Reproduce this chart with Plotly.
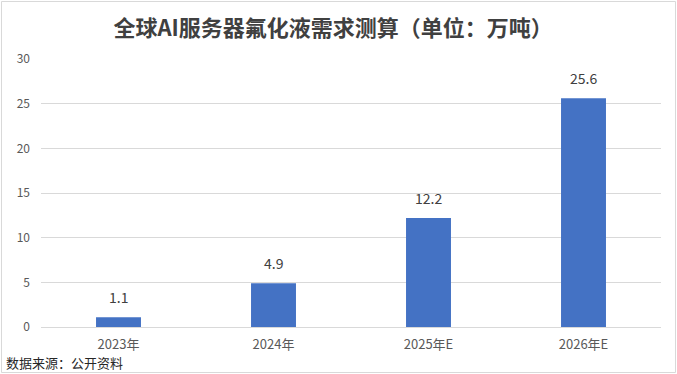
import plotly.graph_objects as go

categories = ["2023年", "2024年", "2025年E", "2026年E"]
values = [1.1, 4.9, 12.2, 25.6]
value_labels = ["1.1", "4.9", "12.2", "25.6"]
y_ticks = [0, 5, 10, 15, 20, 25, 30]

W, H = 677, 374
L, R, T, B = 41, 16, 59, 47
pw, ph = W - L - R, H - T - B

def px_x(p):
    return (p - L) / pw

def px_y(p):
    return (H - B - p) / ph

font = "Noto Sans CJK SC, Microsoft YaHei, sans-serif"

fig = go.Figure()
fig.add_trace(go.Bar(
    x=categories, y=values, width=0.29,
    marker=dict(color="#4472C4", line=dict(width=0)),
    hoverinfo="x+y",
))

for c, v, t in zip(categories, values, value_labels):
    fig.add_annotation(x=c, y=v, text=t, showarrow=False, yanchor="middle",
                       yshift=20, font=dict(family=font, size=14, color="#404040"))

fig.update_layout(
    width=W, height=H,
    margin=dict(l=L, r=R, t=T, b=B),
    paper_bgcolor="white", plot_bgcolor="white",
    showlegend=False,
    font=dict(family=font),
    title=dict(text="<b>全球AI服务器氟化液需求测算（单位：万吨）</b>",
               x=0.492, xref="container", xanchor="center",
               y=1 - 28 / H, yref="container", yanchor="middle",
               font=dict(family=font, size=22, color="#404040")),
    xaxis=dict(showgrid=False, showline=True, linecolor="#d9d9d9", linewidth=1,
               ticks="", tickfont=dict(family=font, size=13, color="#595959"),
               ticklabelstandoff=5),
    yaxis=dict(range=[0, 30], tickvals=y_ticks, showgrid=True, gridcolor="#d9d9d9",
               gridwidth=1, zeroline=False, showline=False, ticks="",
               tickfont=dict(family=font, size=12, color="#595959"),
               ticklabelstandoff=10),
    bargap=0.71,
)

fig.add_annotation(text="数据来源：公开资料", xref="paper", yref="paper",
                   x=px_x(4), y=px_y(362), xanchor="left", yanchor="middle",
                   showarrow=False, font=dict(family=font, size=13, color="#262626"))

fig.add_shape(type="rect", xref="paper", yref="paper",
              x0=px_x(1.5), x1=px_x(675.5), y0=px_y(372.5), y1=px_y(1.5),
              line=dict(color="#d9d9d9", width=1), layer="below")

fig.write_html("out.html")
